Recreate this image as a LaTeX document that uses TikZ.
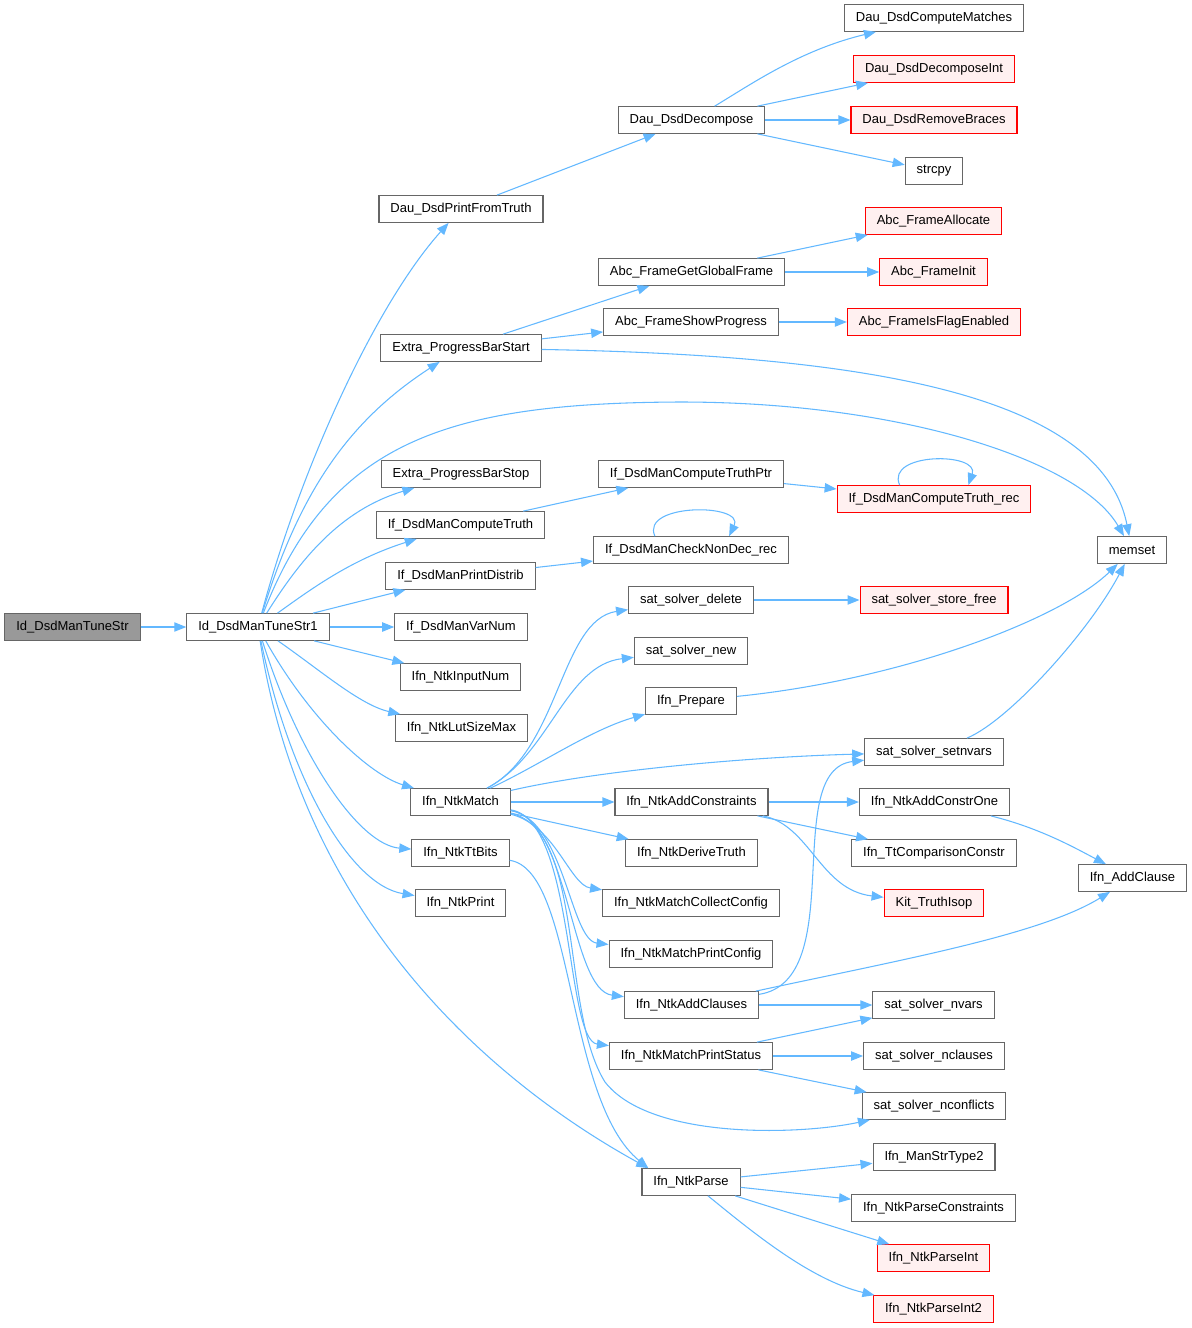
\documentclass[tikz,border=0pt]{standalone}
\usepackage{fontspec}
\setmainfont{Liberation Sans}
\usepackage{xcolor}
\usetikzlibrary{arrows.meta}

\definecolor{edgeblue}{HTML}{63B8FF}
\definecolor{boxgray}{HTML}{666666}
\definecolor{rootgray}{HTML}{999999}
\definecolor{redfill}{HTML}{FFF0F0}

\begin{document}
\begin{tikzpicture}[ % GLOBAL CFG
    x=0.75pt, y=-0.75pt,
    font=\fontsize{9.75}{11}\selectfont,
    >={Triangle[length=9pt,width=7pt]},
    % Styles
    func/.style={% For the function boxes
        rectangle,
        draw=boxgray,
        fill=white,
        line width=0.8pt,
        minimum height=20pt,
        inner xsep=8.6pt,
        inner ysep=0pt,
        },
    rootfunc/.style={% For the function the graph starts from
        func,
        fill=rootgray,
        },
    redfunc/.style={% For the boxes drawn in red
        func,
        draw=red,
        fill=redfill,
        },
    ArrowCall/.style={% For the calls
        ->,
        draw=edgeblue,
        line width=0.8pt,
        },
    ]
    \useasboundingbox (0,0) rectangle (1192,1328);

    % column 1 and 2
    \node [rootfunc] (tunestr) at (72.5, 627) {Id\_DsdManTuneStr};
    \node [func] (tune1) at (258, 627) {Id\_DsdManTuneStr1};

    % column 3
    \node [func] (ptruth) at (461, 209) {Dau\_DsdPrintFromTruth};
    \node [func] (barstart) at (461, 348) {Extra\_ProgressBarStart};
    \node [func] (barstop) at (461, 474) {Extra\_ProgressBarStop};
    \node [func] (ctruth) at (460.5, 525) {If\_DsdManComputeTruth};
    \node [func] (pdistrib) at (460.5, 576) {If\_DsdManPrintDistrib};
    \node [func] (varnum) at (461, 627) {If\_DsdManVarNum};
    \node [func] (inputnum) at (460.5, 677) {Ifn\_NtkInputNum};
    \node [func] (lutsize) at (461.5, 728) {Ifn\_NtkLutSizeMax};
    \node [func] (ntkmatch) at (460.5, 802) {Ifn\_NtkMatch};
    \node [func] (ttbits) at (460.5, 853) {Ifn\_NtkTtBits};
    \node [func] (ntkprint) at (460.5, 903) {Ifn\_NtkPrint};

    % column 4
    \node [func] (decomp) at (691.5, 120) {Dau\_DsdDecompose};
    \node [func] (fglobal) at (691.5, 272) {Abc\_FrameGetGlobalFrame};
    \node [func] (fshow) at (691, 322) {Abc\_FrameShowProgress};
    \node [func] (truthptr) at (691, 474) {If\_DsdManComputeTruthPtr};
    \node [func] (checknd) at (691, 550) {If\_DsdManCheckNonDec\_rec};
    \node [func] (sdelete) at (691, 600) {sat\_solver\_delete};
    \node [func] (snew) at (691, 651) {sat\_solver\_new};
    \node [func] (prepare) at (691, 701) {Ifn\_Prepare};
    \node [func] (addcons) at (691.5, 802) {Ifn\_NtkAddConstraints};
    \node [func] (derive) at (691.5, 853) {Ifn\_NtkDeriveTruth};
    \node [func] (collect) at (691, 903) {Ifn\_NtkMatchCollectConfig};
    \node [func] (pconfig) at (691, 954) {Ifn\_NtkMatchPrintConfig};
    \node [func] (addclauses) at (691.5, 1005) {Ifn\_NtkAddClauses};
    \node [func] (pstatus) at (691, 1056) {Ifn\_NtkMatchPrintStatus};
    \node [func] (ntkparse) at (691, 1182) {Ifn\_NtkParse};

    % column 5
    \node [func] (cmatches) at (934, 18) {Dau\_DsdComputeMatches};
    \node [redfunc] (decompint) at (934, 69) {Dau\_DsdDecomposeInt};
    \node [redfunc] (rbraces) at (934, 120) {Dau\_DsdRemoveBraces};
    \node [func] (strcpy) at (934, 171) {strcpy};
    \node [redfunc] (falloc) at (933.5, 221) {Abc\_FrameAllocate};
    \node [redfunc] (finit) at (933.5, 272) {Abc\_FrameInit};
    \node [redfunc] (fflag) at (934, 322) {Abc\_FrameIsFlagEnabled};
    \node [redfunc] (truthrec) at (934, 499) {If\_DsdManComputeTruth\_rec};
    \node [redfunc] (sfree) at (934, 600) {sat\_solver\_store\_free};
    \node [func] (setnvars) at (934, 752) {sat\_solver\_setnvars};
    \node [func] (addone) at (934.5, 802) {Ifn\_NtkAddConstrOne};
    \node [func] (ttcomp) at (934, 853) {Ifn\_TtComparisonConstr};
    \node [redfunc] (isop) at (934, 903) {Kit\_TruthIsop};
    \node [func] (nvars) at (933.5, 1005) {sat\_solver\_nvars};
    \node [func] (nclauses) at (934, 1056) {sat\_solver\_nclauses};
    \node [func] (nconfl) at (934, 1106) {sat\_solver\_nconflicts};
    \node [func] (strtype) at (934, 1157) {Ifn\_ManStrType2};
    \node [func] (pcons) at (933.5, 1208) {Ifn\_NtkParseConstraints};
    \node [redfunc] (pint) at (933.5, 1258) {Ifn\_NtkParseInt};
    \node [redfunc] (pint2) at (933.5, 1309) {Ifn\_NtkParseInt2};

    % column 6
    \node [func] (memset) at (1132, 550) {memset};
    \node [func] (addclause) at (1132.5, 878) {Ifn\_AddClause};

    % calls from Id_DsdManTuneStr1
    \draw [ArrowCall] (tunestr) -- (tune1);
    \draw [ArrowCall] (tune1) .. controls (300,470) and (375,305) .. (ptruth);
    \draw [ArrowCall] (tune1) .. controls (300,490) and (350,420) .. (barstart);
    \draw [ArrowCall] (tune1) .. controls (330,440) and (450,403) .. (680,402)
        .. controls (900,402) and (1080,460) .. (memset);
    \draw [ArrowCall] (tune1) .. controls (300,560) and (340,510) .. (barstop);
    \draw [ArrowCall] (tune1) .. controls (310,590) and (350,560) .. (ctruth);
    \draw [ArrowCall] (tune1) -- (pdistrib);
    \draw [ArrowCall] (tune1) -- (varnum);
    \draw [ArrowCall] (tune1) -- (inputnum);
    \draw [ArrowCall] (tune1) .. controls (320,670) and (360,705) .. (lutsize);
    \draw [ArrowCall] (tune1) .. controls (310,720) and (370,775) .. (ntkmatch);
    \draw [ArrowCall] (tune1) .. controls (300,760) and (360,845) .. (ttbits);
    \draw [ArrowCall] (tune1) .. controls (290,780) and (350,885) .. (ntkprint);
    \draw [ArrowCall] (tune1) .. controls (300,900) and (470,1070) .. (ntkparse.162);

    % upper part
    \draw [ArrowCall] (ptruth) -- (decomp);
    \draw [ArrowCall] (decomp) .. controls (750,85) and (800,50) .. (cmatches);
    \draw [ArrowCall] (decomp) -- (decompint);
    \draw [ArrowCall] (decomp) -- (rbraces);
    \draw [ArrowCall] (decomp) -- (strcpy);
    \draw [ArrowCall] (barstart) -- (fglobal);
    \draw [ArrowCall] (barstart) -- (fshow);
    \draw [ArrowCall] (barstart) .. controls (850,355) and (1100,390) .. (memset);
    \draw [ArrowCall] (fglobal) -- (falloc);
    \draw [ArrowCall] (fglobal) -- (finit);
    \draw [ArrowCall] (fshow) -- (fflag);
    \draw [ArrowCall] (ctruth) -- (truthptr);
    \draw [ArrowCall] (truthptr) -- (truthrec);
    \draw [ArrowCall] (truthrec.158) .. controls (885,452) and (980,452) .. (truthrec.22);
    \draw [ArrowCall] (pdistrib) -- (checknd);
    \draw [ArrowCall] (checknd.159) .. controls (640,503) and (745,503) .. (checknd.20);
    \draw [ArrowCall] (sdelete) -- (sfree);
    \draw [ArrowCall] (prepare) .. controls (900,680) and (1060,620) .. (memset);
    \draw [ArrowCall] (setnvars) .. controls (1010,720) and (1090,630) .. (memset);

    % calls from Ifn_NtkMatch
    \draw [ArrowCall] (ntkmatch) .. controls (560,750) and (560,620) .. (sdelete);
    \draw [ArrowCall] (ntkmatch) .. controls (550,755) and (565,665) .. (snew);
    \draw [ArrowCall] (ntkmatch) .. controls (540,765) and (590,730) .. (prepare);
    \draw [ArrowCall] (ntkmatch) .. controls (600,770) and (750,757) .. (setnvars);
    \draw [ArrowCall] (ntkmatch) -- (addcons);
    \draw [ArrowCall] (ntkmatch) -- (derive);
    \draw [ArrowCall] (ntkmatch) .. controls (555,825) and (570,885) .. (collect);
    \draw [ArrowCall] (ntkmatch) .. controls (565,820) and (570,940) .. (pconfig);
    \draw [ArrowCall] (ntkmatch) .. controls (570,820) and (570,990) .. (addclauses);
    \draw [ArrowCall] (ntkmatch) .. controls (575,820) and (565,1040) .. (pstatus);
    \draw [ArrowCall] (ntkmatch) .. controls (585,830) and (560,1010) .. (605,1082)
        .. controls (650,1140) and (800,1135) .. (nconfl);
    \draw [ArrowCall] (ttbits) .. controls (575,870) and (565,1100) .. (ntkparse.162);

    % lower part
    \draw [ArrowCall] (addcons) -- (addone);
    \draw [ArrowCall] (addcons) -- (ttcomp);
    \draw [ArrowCall] (addcons) .. controls (810,825) and (820,890) .. (isop);
    \draw [ArrowCall] (addone) .. controls (1040,828) and (1075,848) .. (addclause);
    \draw [ArrowCall] (addclauses) .. controls (850,980) and (780,770) .. (setnvars);
    \draw [ArrowCall] (addclauses) .. controls (900,960) and (1040,935) .. (addclause);
    \draw [ArrowCall] (addclauses) -- (nvars);
    \draw [ArrowCall] (pstatus) -- (nvars);
    \draw [ArrowCall] (pstatus) -- (nclauses);
    \draw [ArrowCall] (pstatus) -- (nconfl);
    \draw [ArrowCall] (ntkparse) -- (strtype);
    \draw [ArrowCall] (ntkparse) -- (pcons);
    \draw [ArrowCall] (ntkparse) -- (pint);
    \draw [ArrowCall] (ntkparse) .. controls (750,1230) and (810,1280) .. (pint2);

\end{tikzpicture}
\end{document}
